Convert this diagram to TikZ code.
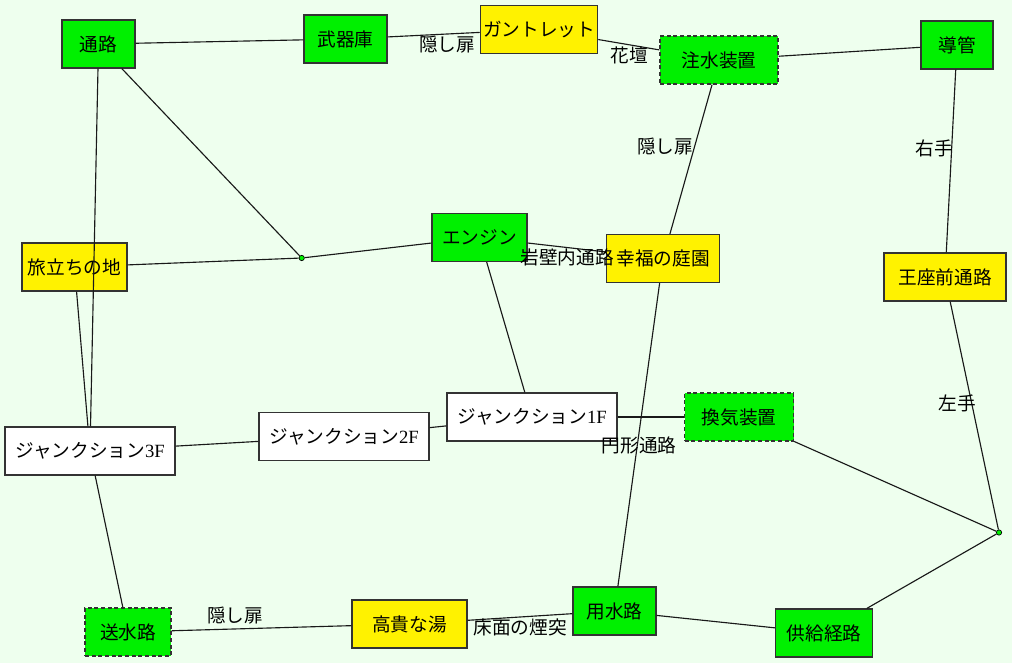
\documentclass[tikz,border=0pt]{standalone}
\usepackage{fontspec}
\setmainfont{Liberation Serif}
\newfontfamily\cjk{Noto Sans CJK JP}
\definecolor{fondo}{HTML}{EEFFEE}
\definecolor{verdeclaro}{HTML}{00F000}
\begin{document}
\begin{tikzpicture}[x=0.75pt, y=-0.75pt,
	every node/.style={rectangle, draw=black!80, line width=0.9pt, font=\fontsize{14}{16}\selectfont\cjk, minimum height=36pt, inner sep=2pt},
	verde/.style={fill=verdeclaro},
	amarillo/.style={fill=yellow},
	blanco/.style={fill=white},
	punteado/.style={fill=verdeclaro, dash pattern=on 3pt off 2pt},
	cruce/.style={circle, fill=verdeclaro, draw=black, line width=0.5pt, minimum size=4pt, minimum height=4pt, inner sep=0pt},
	etiqueta/.style={draw=none, fill=none, minimum height=0pt, inner sep=0pt},
	arista/.style={line width=0.85pt, black!90}]
	\path[use as bounding box, fill=fondo] (0,0) rectangle (1012,663);
	% salas
	\node[verde, minimum width=54.75pt] (tsuro) at (98.5,44) {通路};
	\node[verde, minimum width=62.25pt] (bukiko) at (345.5,39) {武器庫};
	\node[amarillo, minimum width=87pt] (gantoretto) at (539,29.5) {ガントレット};
	\node[punteado, minimum width=88.5pt] (chusui) at (719,60) {注水装置};
	\node[verde, minimum width=54pt] (donkan) at (957,45) {導管};
	\node[verde, minimum width=71.25pt] (enjin) at (479.5,237.5) {エンジン};
	\node[amarillo, minimum width=78.75pt] (tabidachi) at (74.5,267) {旅立ちの地};
	\node[amarillo, minimum width=84.75pt] (kofuku) at (663,258.5) {幸福の庭園};
	\node[amarillo, minimum width=91.5pt] (ouza) at (945,277) {王座前通路};
	\node[blanco, minimum width=127.5pt] (j3) at (90,451) {ジャンクション{\rmfamily 3F}};
	\node[blanco, minimum width=127.5pt] (j2) at (344,436.5) {ジャンクション{\rmfamily 2F}};
	\node[blanco, minimum width=127.5pt] (j1) at (532,417) {ジャンクション{\rmfamily 1F}};
	\node[punteado, minimum width=81.75pt] (kanki) at (739,417) {換気装置};
	\node[punteado, minimum width=64.5pt] (sousui) at (128,632) {送水路};
	\node[amarillo, minimum width=86.25pt] (kouki) at (409.5,624) {高貴な湯};
	\node[verde, minimum width=62.25pt] (yousui) at (614.5,611) {用水路};
	\node[verde, minimum width=72.75pt] (kyokyu) at (824,633) {供給経路};
	\node[cruce] (c1) at (301.7,258) {};
	\node[cruce] (c2) at (999,532.5) {};
	% pasillos
	\draw[arista] (tsuro) -- (bukiko);
	\draw[arista] (bukiko) -- (gantoretto);
	\draw[arista] (gantoretto) -- (chusui);
	\draw[arista] (chusui) -- (donkan);
	\draw[arista] (chusui) -- (kofuku);
	\draw[arista] (donkan) -- (ouza);
	\draw[arista] (ouza) -- (c2);
	\draw[arista] (tsuro) -- (c1);
	\draw[arista] (tsuro) -- (j3);
	\draw[arista] (tabidachi) -- (c1);
	\draw[arista] (c1) -- (enjin);
	\draw[arista] (tabidachi) -- (j3);
	\draw[arista] (enjin) -- (kofuku);
	\draw[arista] (enjin) -- (j1);
	\draw[arista] (kofuku) -- (yousui);
	\draw[arista] (j1) -- (kanki);
	\draw[arista] (j1) -- (j2);
	\draw[arista] (j2) -- (j3);
	\draw[arista] (j3) -- (sousui);
	\draw[arista] (sousui) -- (kouki);
	\draw[arista] (kouki) -- (yousui);
	\draw[arista] (yousui) -- (kyokyu);
	\draw[arista] (kyokyu) -- (c2);
	\draw[arista] (kanki) -- (c2);
	% etiquetas
	\node[etiqueta] (e1) at (447,45) {隠し扉};
	\node[etiqueta] (e2) at (629,55) {花壇};
	\node[etiqueta] (e3) at (665,147) {隠し扉};
	\node[etiqueta] (e4) at (934,148) {右手};
	\node[etiqueta] (e5) at (567,257) {岩壁内通路};
	\node[etiqueta] (e6) at (957,403) {左手};
	\node[etiqueta] (e7) at (639,445) {円形通路};
	\node[etiqueta] (e8) at (235,616) {隠し扉};
	\node[etiqueta] (e9) at (520,627.5) {床面の煙突};
\end{tikzpicture}
\end{document}
